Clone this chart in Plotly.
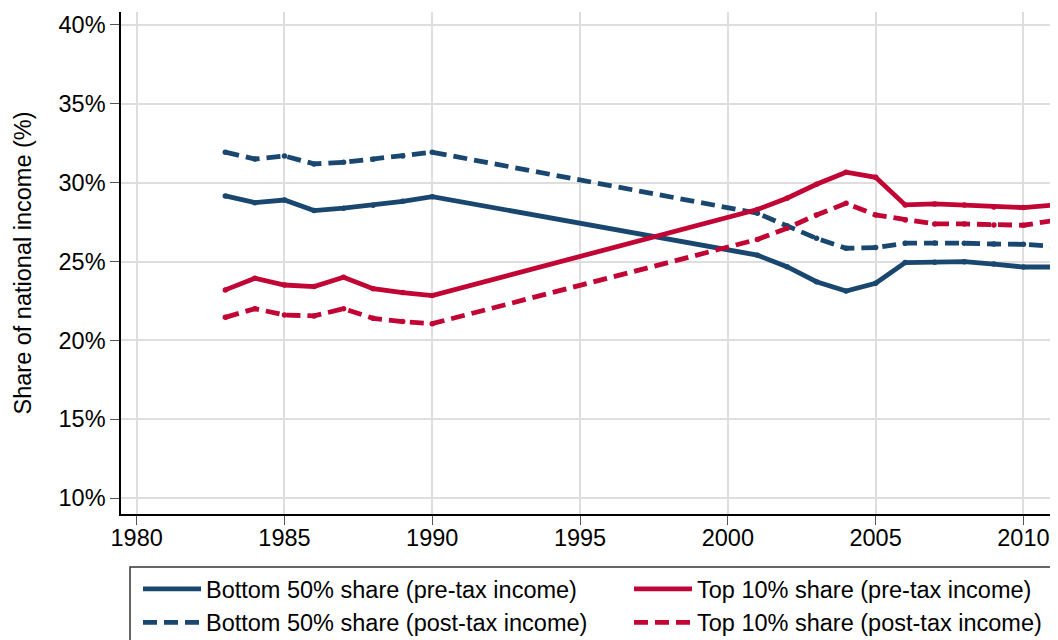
import plotly.graph_objects as go

years = [1983, 1984, 1985, 1986, 1987, 1988, 1989, 1990,
         2001, 2002, 2003, 2004, 2005, 2006, 2007, 2008, 2009, 2010, 2011]

bottom50_pre = [29.16, 28.73, 28.90, 28.23, 28.38, 28.57, 28.82, 29.11,
                25.40, 24.67, 23.72, 23.13, 23.62, 24.93, 24.95, 24.99, 24.84, 24.65, 24.65]
top10_pre = [23.20, 23.94, 23.51, 23.41, 24.00, 23.28, 23.03, 22.84,
             28.30, 29.01, 29.90, 30.66, 30.34, 28.59, 28.65, 28.59, 28.46, 28.42, 28.57]
bottom50_post = [31.93, 31.50, 31.69, 31.19, 31.29, 31.48, 31.69, 31.93,
                 28.06, 27.27, 26.47, 25.84, 25.88, 26.16, 26.18, 26.16, 26.11, 26.09, 25.97]
top10_post = [21.46, 22.01, 21.61, 21.55, 22.01, 21.40, 21.19, 21.06,
              26.40, 27.11, 27.95, 28.69, 27.95, 27.63, 27.38, 27.38, 27.32, 27.30, 27.59]

x_ticks = [1980, 1985, 1990, 1995, 2000, 2005, 2010]
y_ticks = [10, 15, 20, 25, 30, 35, 40]
y_ticktext = ["10%", "15%", "20%", "25%", "30%", "35%", "40%"]

BLUE = "#1a476f"
RED = "#c10534"
DASH = "14px,7px"
FONT = "Liberation Sans, Arial, sans-serif"
FS = 23.5

series = [
    ("Bottom 50% share (pre-tax income)", bottom50_pre, BLUE, "solid", "legend"),
    ("Bottom 50% share (post-tax income)", bottom50_post, BLUE, DASH, "legend"),
    ("Top 10% share (pre-tax income)", top10_pre, RED, "solid", "legend2"),
    ("Top 10% share (post-tax income)", top10_post, RED, DASH, "legend2"),
]

fig = go.Figure()
for name, vals, col, dash, leg in series:
    fig.add_trace(go.Scatter(x=years, y=vals, mode="lines", name=name,
                             line=dict(color=col, width=4.8, dash=dash), legend=leg))
for name, vals, col, dash, leg in series:
    fig.add_trace(go.Scatter(x=years, y=vals, mode="markers", showlegend=False,
                             marker=dict(color=col, size=5.5, line=dict(width=0)),
                             hoverinfo="skip"))

# page has an 8px body margin; work in window pixels and shift by OFF
OFF = 8
W, H = 1058 - OFF, 640 - OFF
L, R, T = 121 - OFF, 0, 12 - OFF
B = H - (514 - OFF)
pw = W - L - R
ph = H - T - B

def px_x(p):
    return (p - OFF - L) / pw

def px_y(p):
    return (H - B - (p - OFF)) / ph

leg_common = dict(orientation="v", xanchor="left", yanchor="top",
                  bgcolor="rgba(0,0,0,0)", borderwidth=0, itemwidth=58,
                  font=dict(family=FONT, size=FS, color="#000"),
                  tracegroupgap=0, traceorder="normal")

fig.update_layout(
    width=W, height=H,
    margin=dict(l=L, r=R, t=T, b=B, autoexpand=False),
    paper_bgcolor="white", plot_bgcolor="white",
    font=dict(family=FONT, size=FS, color="#000"),
    legend=dict(x=px_x(138), y=px_y(567), **leg_common),
    legend2=dict(x=px_x(629), y=px_y(567), **leg_common),
    xaxis=dict(range=[1979.47, 2011.17], tickvals=x_ticks,
               showgrid=True, gridcolor="#dedede", gridwidth=1.5,
               showline=True, linecolor="#000", linewidth=1.5,
               ticks="outside", ticklen=9, tickwidth=1.2, tickcolor="#555",
               tickfont=dict(family=FONT, size=FS, color="#000"),
               ticklabelstandoff=-7,
               zeroline=False),
    yaxis=dict(range=[8.99, 40.82], tickvals=y_ticks, ticktext=y_ticktext,
               showgrid=True, gridcolor="#dedede", gridwidth=1.5,
               showline=True, linecolor="#000", linewidth=1.5,
               ticks="outside", ticklen=9, tickwidth=1.2, tickcolor="#555",
               tickfont=dict(family=FONT, size=FS, color="#000"),
               title=dict(text="Share of national income (%)", standoff=20,
                          font=dict(family=FONT, size=FS, color="#000")),
               zeroline=False),
    shapes=[dict(type="rect", xref="paper", yref="paper",
                 x0=px_x(130), x1=1.2, y0=px_y(567), y1=px_y(700),
                 line=dict(color="#333", width=1.5), fillcolor="rgba(0,0,0,0)")],
)

fig.write_html("out.html")
